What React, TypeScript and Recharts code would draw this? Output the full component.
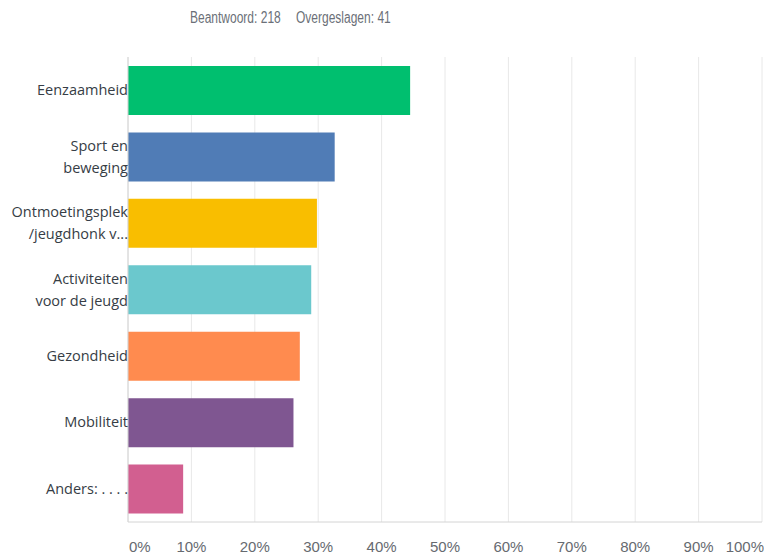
import { BarChart, Bar, XAxis, YAxis, CartesianGrid, Cell } from 'recharts'

const categories = [
  'Eenzaamheid',
  'Sport en\nbeweging',
  'Ontmoetingsplek\n/jeugdhonk v...',
  'Activiteiten\nvoor de jeugd',
  'Gezondheid',
  'Mobiliteit',
  'Anders: . . . .',
]
const values = [0.445, 0.326, 0.298, 0.289, 0.271, 0.261, 0.087]
const colors = ['#00bf6f', '#507cb6', '#f9be00', '#6bc8cd', '#ff8b4f', '#7f5691', '#d25f90']
const xTicks = [0, 0.1, 0.2, 0.3, 0.4, 0.5, 0.6, 0.7, 0.8, 0.9, 1]
const answered = 218
const skipped = 41

const data = categories.map((c, i) => ({ name: c, value: values[i], fill: colors[i] }))

const CategoryTick = ({ x, y, payload }: any) => {
  const lines = String(payload.value).split('\n')
  const lh = 22
  const start = y - ((lines.length - 1) * lh) / 2
  return (
    <text
      x={x + 8}
      y={start}
      textAnchor="end"
      fill="#363d45"
      style={{ fontFamily: '"Open Sans", sans-serif', fontSize: 14.5 }}
    >
      {lines.map((l, i) => (
        <tspan key={i} x={x + 8} y={start + i * lh} dy="0.35em">
          {l}
        </tspan>
      ))}
    </text>
  )
}

const PercentTick = ({ x, payload, index }: any) => {
  const v = payload.value
  let anchor: 'start' | 'middle' | 'end' = 'middle'
  let dx = 0
  if (index === 0) {
    anchor = 'start'
    dx = 1
  } else if (v === 1) {
    anchor = 'end'
    dx = 2
  }
  return (
    <text
      x={x + dx}
      y={552}
      textAnchor={anchor}
      fill="#666a70"
      style={{ fontFamily: '"Liberation Sans", Arial, sans-serif', fontSize: 15 }}
    >
      {Math.round(v * 100)}%
    </text>
  )
}

const headerStyle = {
  position: 'absolute' as const,
  top: 9,
  fontFamily: '"Liberation Sans", Arial, sans-serif',
  fontSize: 16,
  color: '#6b7078',
  whiteSpace: 'pre' as const,
  transform: 'scaleX(0.75)',
  transformOrigin: 'left top',
}

export default function App() {
  return (
    <div style={{ position: 'absolute', left: 0, top: 0, width: 764, height: 555, background: '#fff' }}>
      <div style={{ ...headerStyle, left: 190 }}>{`Beantwoord: ${answered}`}</div>
      <div style={{ ...headerStyle, left: 296 }}>{`Overgeslagen: ${skipped}`}</div>
      <BarChart
        width={764}
        height={555}
        data={data}
        layout="vertical"
        margin={{ top: 57, right: 2, left: 0, bottom: 0 }}
        barSize={49}
      >
        <CartesianGrid horizontal={false} stroke="#e8e8e8" />
        <XAxis
          type="number"
          domain={[0, 1]}
          ticks={xTicks}
          tick={<PercentTick />}
          tickLine={false}
          axisLine={{ stroke: '#d4d4d4' }}
          height={33}
          interval={0}
        />
        <YAxis
          type="category"
          dataKey="name"
          width={128}
          tick={<CategoryTick />}
          tickLine={false}
          axisLine={{ stroke: '#d4d4d4' }}
          interval={0}
        />
        <Bar dataKey="value" isAnimationActive={false}>
          {data.map((d, i) => (
            <Cell key={i} fill={d.fill} />
          ))}
        </Bar>
      </BarChart>
    </div>
  )
}
